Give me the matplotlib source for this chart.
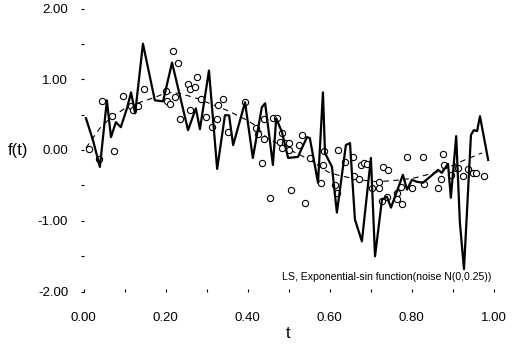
import matplotlib
matplotlib.use("Agg")
import matplotlib.pyplot as plt
from matplotlib.ticker import MultipleLocator, FormatStrFormatter

# noisy observations (circles)
obs_t = [0.013, 0.038, 0.045, 0.070, 0.074, 0.096, 0.116, 0.121, 0.133, 0.148,
         0.201, 0.204, 0.211, 0.218, 0.230, 0.223, 0.235, 0.255, 0.260, 0.272,
         0.277, 0.260, 0.287, 0.299, 0.313, 0.326, 0.328, 0.340, 0.352, 0.394,
         0.421, 0.440, 0.426, 0.440, 0.462, 0.472, 0.435, 0.455, 0.484, 0.479,
         0.491, 0.501, 0.484, 0.501, 0.506, 0.533, 0.526, 0.552, 0.540, 0.584,
         0.579, 0.587, 0.621, 0.613, 0.618, 0.638, 0.657, 0.660, 0.672, 0.677,
         0.684, 0.691, 0.704, 0.721, 0.721, 0.730, 0.743, 0.728, 0.740, 0.765,
         0.774, 0.765, 0.777, 0.789, 0.801, 0.828, 0.830, 0.865, 0.872, 0.877,
         0.879, 0.896, 0.909, 0.913, 0.925, 0.938, 0.950, 0.957, 0.977]
obs_v = [0.014, -0.126, 0.688, 0.477, -0.014, 0.758, 0.618, 0.561, 0.618, 0.856,
         0.828, 0.688, 0.646, 1.404, 1.235, 0.744, 0.435, 0.926, 0.856, 0.884,
         1.025, 0.561, 0.716, 0.463, 0.323, 0.435, 0.632, 0.716, 0.253, 0.674,
         0.309, 0.435, 0.225, 0.154, 0.449, 0.449, -0.182, -0.674, 0.239, 0.112,
         0.098, 0.098, 0.028, 0.000, -0.561, 0.211, 0.070, -0.112, -0.744, -0.211,
         -0.463, -0.014, 0.000, -0.491, -0.604, -0.168, -0.098, -0.365, -0.407, -0.211,
         -0.182, -0.196, -0.533, -0.533, -0.449, -0.239, -0.281, -0.716, -0.660, -0.604,
         -0.519, -0.688, -0.758, -0.098, -0.533, -0.098, -0.477, -0.533, -0.407, -0.056,
         -0.211, -0.351, -0.253, -0.253, -0.365, -0.267, -0.323, -0.323, -0.365]

# LS estimate (solid line)
ls_t = [0.006, 0.023, 0.040, 0.057, 0.067, 0.079, 0.091, 0.106, 0.116, 0.126,
        0.145, 0.174, 0.194, 0.216, 0.255, 0.274, 0.284, 0.306, 0.326, 0.345,
        0.355, 0.365, 0.394, 0.413, 0.435, 0.443, 0.462, 0.470, 0.484, 0.499,
        0.523, 0.545, 0.552, 0.572, 0.584, 0.589, 0.606, 0.618, 0.640, 0.650,
        0.662, 0.679, 0.701, 0.711, 0.728, 0.740, 0.750, 0.779, 0.789, 0.801,
        0.813, 0.828, 0.865, 0.874, 0.889, 0.896, 0.909, 0.918, 0.928, 0.945,
        0.952, 0.960, 0.967, 0.987]
ls_v = [0.449, 0.140, -0.239, 0.702, 0.182, 0.393, 0.323, 0.589, 0.814, 0.519,
        1.502, 0.702, 0.688, 1.235, 0.281, 0.589, 0.295, 1.123, -0.267, 0.491,
        0.491, 0.070, 0.674, -0.112, 0.604, 0.660, -0.211, 0.449, 0.253, -0.112,
        -0.098, 0.182, 0.168, -0.463, 0.814, -0.042, -0.239, -0.884, 0.070, 0.098,
        -0.982, -1.291, -0.112, -1.502, -0.702, -0.660, -0.814, -0.351, -0.561, -0.421,
        -0.449, -0.463, -0.281, -0.323, -0.196, -0.674, 0.196, -1.025, -1.684, 0.211,
        0.281, 0.267, 0.477, -0.140]

# true function (dashed)
true_t = [0.006, 0.040, 0.065, 0.101, 0.138, 0.174, 0.204, 0.235, 0.277, 0.313,
          0.350, 0.399, 0.418, 0.448, 0.504, 0.552, 0.596, 0.618, 0.670, 0.718,
          0.777, 0.809, 0.865, 0.930, 0.972]
true_v = [0.028, 0.309, 0.449, 0.589, 0.674, 0.744, 0.814, 0.800, 0.730, 0.646,
          0.561, 0.421, 0.350, 0.168, 0.000, -0.140, -0.309, -0.351, -0.421, -0.449,
          -0.421, -0.393, -0.309, -0.140, -0.042]

x_ticks = [0.0, 0.2, 0.4, 0.6, 0.8, 1.0]
y_ticks = [-2.0, -1.0, 0.0, 1.0, 2.0]

plt.rcParams['font.family'] = ['Liberation Sans', 'DejaVu Sans']

fig = plt.figure(figsize=(5.14, 3.47), dpi=100)
ax = fig.add_axes([83.5 / 514, (347 - 291.5) / 347, 410 / 514, 283 / 347])

ax.plot(true_t, true_v, color='black', lw=0.8, ls=(0, (5, 4)), zorder=2)
ax.plot(obs_t, obs_v, ls='none', marker='o', ms=4.5, mfc='white', mec='black',
        mew=0.8, zorder=3)
ax.plot(ls_t, ls_v, color='black', lw=1.6, zorder=4)

ax.set_xlim(0, 1)
ax.set_ylim(-2, 2)
for s in ax.spines.values():
    s.set_visible(False)

ax.set_xticks(x_ticks)
ax.set_yticks(y_ticks)
ax.xaxis.set_minor_locator(MultipleLocator(0.1))
ax.yaxis.set_minor_locator(MultipleLocator(0.5))
ax.xaxis.set_major_formatter(FormatStrFormatter('%.2f'))
ax.yaxis.set_major_formatter(FormatStrFormatter('%.2f'))
ax.tick_params(axis='x', which='both', direction='in', length=2, width=0.8,
               labelsize=9.5, pad=15)
ax.tick_params(axis='y', which='both', direction='out', length=2, width=0.8,
               labelsize=9.5, pad=9)

ax.set_xlabel('t', fontsize=12, labelpad=1)
ax.set_ylabel('f(t)', fontsize=12, rotation=0, labelpad=14, va='center')

ax.text(0.995, -1.80, 'LS, Exponential-sin function(noise N(0,0.25))',
        ha='right', va='center', fontsize=7.6,
        family=['Liberation Sans Narrow', 'Liberation Sans', 'DejaVu Sans'])

fig.savefig('out.png', dpi=100)
